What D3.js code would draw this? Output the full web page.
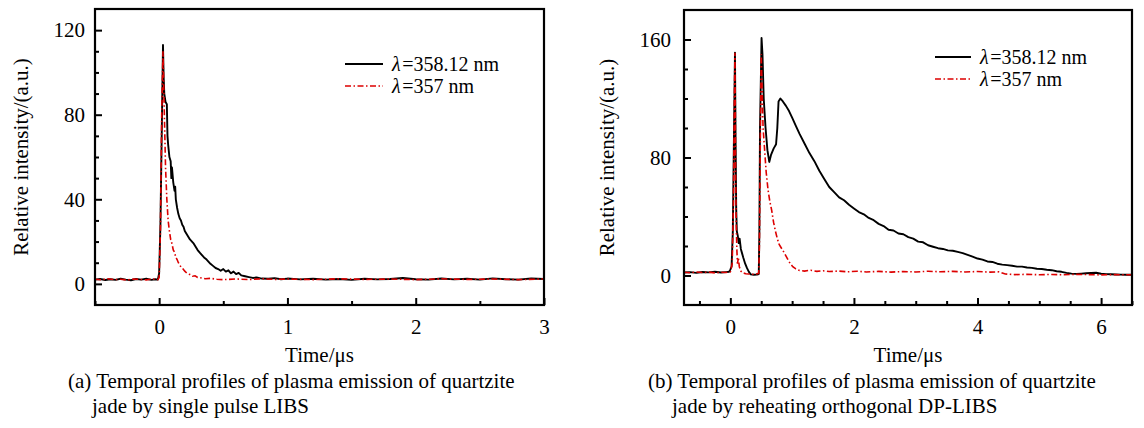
<!DOCTYPE html>
<html><head><meta charset="utf-8">
<script src="https://cdn.jsdelivr.net/npm/d3@7"></script>
<style>
body{margin:0;background:#fff;}
svg text{font-family:"Liberation Serif","Times New Roman",serif;fill:#000;}
</style></head>
<body><svg id="c" width="1144" height="428"></svg>
<script>
// ---------- data ----------
const legendLabels = ["358.12 nm", "357 nm"];
const captionA = ["(a) Temporal profiles of plasma emission of quartzite", "jade by single pulse LIBS"];
const captionB = ["(b) Temporal profiles of plasma emission of quartzite", "jade by reheating orthogonal DP-LIBS"];
const xTitle = "Time/\u03bcs";
const yTitle = "Relative intensity/(a.u.)";

const aXTicks = [0, 1, 2, 3];
const aXMinor = [-0.5, 0.5, 1.5, 2.5];
const aYTicks = [0, 40, 80, 120];
const aYMinor = [-10, 10, 20, 30, 50, 60, 70, 90, 100, 110, 130];
const bXTicks = [0, 2, 4, 6];
const bXMinor = [-0.5, 0.5, 1, 1.5, 2.5, 3, 3.5, 4.5, 5, 5.5, 6.5];
const bYTicks = [0, 80, 160];
const bYMinor = [20, 40, 60, 100, 120, 140];

// panel (a) lambda = 358.12 nm  [time, intensity]
const a358 = [[-0.50,2.0],[-0.46,2.3],[-0.42,1.8],[-0.38,2.2],[-0.34,1.9],[-0.30,2.4],[-0.26,2.0],[-0.22,1.7],[-0.18,2.3],[-0.14,2.0],[-0.10,2.4],[-0.06,1.9],[-0.03,2.2],[-0.01,2.0],
[0.00,5],[0.01,28],[0.02,70],[0.03,113],[0.035,98],[0.04,90],[0.05,86],[0.06,85],[0.065,70],[0.07,66],[0.08,60],[0.09,58],[0.095,50],[0.10,55],[0.11,48],[0.12,44],[0.125,46],[0.13,40],[0.14,36],[0.15,33],[0.16,31],[0.17,30],[0.18,28],[0.19,27],[0.20,25],[0.22,23],[0.24,21],[0.27,19],[0.30,16],[0.32,14.5],[0.35,12.5],[0.37,11.5],[0.40,9.5],[0.42,8.5],[0.44,7.5],[0.46,7.0],[0.48,6.2],[0.50,7.0],[0.52,5.8],[0.54,6.4],[0.56,5.0],[0.58,5.8],[0.60,4.6],[0.62,5.2],[0.64,4.0],[0.67,3.6],[0.70,3.2],[0.73,2.8],[0.76,3.0],[0.80,2.5],[0.85,2.4],[0.90,2.7],[0.95,2.2],[1.00,2.5],[1.10,2.1],[1.20,2.4],[1.30,2.0],[1.40,2.3],[1.50,1.9],[1.60,2.4],[1.70,2.1],[1.80,2.3],[1.90,2.8],[2.00,2.2],[2.10,2.0],[2.20,2.5],[2.30,2.1],[2.40,2.4],[2.50,2.0],[2.60,2.6],[2.70,2.2],[2.80,2.0],[2.90,2.5],[3.00,2.3]];

// panel (a) lambda = 357 nm
const a357 = [[-0.50,2.2],[-0.45,1.9],[-0.40,2.4],[-0.35,2.0],[-0.30,2.2],[-0.25,1.8],[-0.20,2.3],[-0.15,2.1],[-0.10,1.9],[-0.05,2.3],[-0.01,2.0],[0.00,3],[0.01,25],[0.02,80],[0.03,110],[0.04,82],[0.05,55],[0.06,40],[0.07,30],[0.08,25],[0.09,21],[0.10,19],[0.11,16],[0.12,15],[0.13,12.5],[0.14,11.5],[0.15,10],[0.16,9],[0.17,8],[0.18,7.5],[0.20,6],[0.22,4.8],[0.24,4.4],[0.26,3.6],[0.28,3.8],[0.30,3.0],[0.33,2.8],[0.36,2.4],[0.40,2.6],[0.45,2.2],[0.50,2.0],[0.60,2.3],[0.70,2.0],[0.80,2.4],[0.90,2.1],[1.00,2.3],[1.20,2.0],[1.40,2.4],[1.60,2.1],[1.80,2.3],[2.00,2.0],[2.20,2.4],[2.40,2.1],[2.60,2.3],[2.80,2.0],[3.00,2.3]];

// panel (b) lambda = 358.12 nm
const b358 = [[-0.75,2.0],[-0.65,2.3],[-0.55,1.8],[-0.45,2.4],[-0.35,2.1],[-0.25,2.5],[-0.15,2.0],[-0.07,2.3],[-0.02,2.5],[0.00,4],[0.02,6],[0.04,30],[0.06,100],[0.075,151],[0.085,90],[0.095,45],[0.105,30],[0.12,27],[0.135,22],[0.15,25],[0.17,18],[0.19,15],[0.21,12],[0.24,8],[0.27,5],[0.30,2.5],[0.33,0.8],[0.38,0.5],[0.43,0.6],[0.46,1.0],[0.47,30],[0.48,100],[0.505,161],[0.52,150],[0.54,120],[0.57,100],[0.60,85],[0.63,77],[0.66,82],[0.70,86],[0.74,89],[0.76,100],[0.78,118],[0.81,120],[0.85,118],[0.90,115],[0.95,111.5],[1.00,107],[1.06,101.5],[1.12,96],[1.20,89.5],[1.28,83],[1.36,77.5],[1.44,71],[1.52,65.5],[1.60,60],[1.68,56.5],[1.76,53],[1.84,51],[1.92,48],[2.00,45.5],[2.08,43],[2.16,41.5],[2.24,39],[2.32,37.5],[2.40,35],[2.48,33.5],[2.56,31],[2.64,30.5],[2.72,28.5],[2.80,28],[2.88,26],[2.96,25],[3.04,23],[3.12,22.5],[3.20,20.5],[3.28,19.5],[3.36,18.5],[3.44,18],[3.52,17],[3.60,16.8],[3.68,16],[3.76,15.2],[3.84,14],[3.92,12.8],[4.00,11.5],[4.08,10.8],[4.16,9.5],[4.24,9.2],[4.32,8],[4.40,7.4],[4.48,7],[4.56,6.6],[4.64,6.0],[4.72,6.0],[4.80,5.4],[4.88,5.2],[4.96,4.6],[5.04,4.4],[5.12,3.9],[5.20,3.6],[5.28,2.9],[5.36,2.5],[5.44,1.8],[5.52,1.3],[5.60,1.1],[5.68,1.3],[5.76,1.5],[5.84,1.7],[5.92,1.9],[6.00,1.2],[6.08,0.9],[6.16,0.8],[6.24,0.7],[6.32,0.6],[6.40,0.5],[6.50,0.5]];

// panel (b) lambda = 357 nm
const b357 = [[-0.75,2.2],[-0.65,1.9],[-0.55,2.4],[-0.45,2.0],[-0.35,2.3],[-0.25,1.8],[-0.15,2.2],[-0.07,2.0],[0.00,2.5],[0.03,8],[0.05,50],[0.065,120],[0.075,151],[0.085,70],[0.095,37],[0.105,18],[0.115,8],[0.13,12],[0.145,6],[0.17,3],[0.20,1.8],[0.25,1.2],[0.30,1.0],[0.36,0.8],[0.42,1.0],[0.46,1.5],[0.47,20],[0.485,90],[0.50,150],[0.515,125],[0.53,100],[0.55,88],[0.58,70],[0.61,58],[0.64,50],[0.67,44],[0.70,36],[0.73,30],[0.76,25],[0.79,21],[0.82,19],[0.85,17],[0.89,14],[0.93,11],[0.97,8],[1.01,6],[1.06,4.5],[1.12,3.4],[1.20,3.0],[1.30,3.6],[1.40,2.8],[1.50,3.2],[1.60,2.7],[1.75,3.0],[1.90,2.5],[2.05,2.9],[2.20,2.4],[2.40,2.8],[2.60,2.3],[2.80,2.7],[3.00,2.4],[3.20,2.9],[3.40,2.5],[3.60,2.8],[3.80,2.4],[4.00,2.7],[4.20,2.3],[4.35,2.5],[4.45,1.0],[4.60,0.6],[4.80,0.8],[5.00,0.5],[5.20,0.7],[5.40,0.5],[5.60,0.8],[5.80,0.6],[6.00,0.4],[6.20,0.6],[6.40,0.5],[6.50,0.5]];

// ---------- drawing ----------
const svg = d3.select("#c");
const FS = 21;
const LFS = 20;
const FONT = '"Liberation Serif","Times New Roman",serif';
const RED = "#dd0000";
const DASH = "6,2.5,1.5,2.5";

function panel(o) {
  const g = svg.append("g");
  const x = d3.scaleLinear().domain(o.xDom).range([o.x0, o.x1]);
  const y = d3.scaleLinear().domain(o.yDom).range([o.y1, o.y0]);
  const cid = "clip" + o.id;
  svg.append("clipPath").attr("id", cid).append("rect")
    .attr("x", o.x0).attr("y", o.y0).attr("width", o.x1 - o.x0).attr("height", o.y1 - o.y0);

  const line = d3.line().x(d => x(d[0])).y(d => y(d[1]));
  const lg = g.append("g").attr("clip-path", `url(#${cid})`);
  lg.append("path").datum(o.s1).attr("d", line).attr("fill", "none")
    .attr("stroke", "#000").attr("stroke-width", 1.9).attr("stroke-linejoin", "round");
  lg.append("path").datum(o.s2).attr("d", line).attr("fill", "none")
    .attr("stroke", RED).attr("stroke-width", 1.6).attr("stroke-dasharray", DASH);

  // axes
  g.append("g").attr("transform", `translate(0,${o.y1})`)
    .call(d3.axisBottom(x).tickValues(o.xTicks).tickFormat(d3.format("d")).tickSize(-7).tickPadding(14));
  g.append("g").attr("transform", `translate(0,${o.y1})`)
    .call(d3.axisBottom(x).tickValues(o.xMinor).tickFormat("").tickSize(-4));
  g.append("g").attr("transform", `translate(${o.x0},0)`)
    .call(d3.axisLeft(y).tickValues(o.yTicks).tickFormat(d3.format("d")).tickSize(-7).tickPadding(o.yPad));
  g.append("g").attr("transform", `translate(${o.x0},0)`)
    .call(d3.axisLeft(y).tickValues(o.yMinor.filter(v => v > o.yDom[0] && v < o.yDom[1])).tickFormat("").tickSize(-4));
  g.selectAll(".tick line").attr("stroke", "#000").attr("stroke-width", 2);
  g.selectAll(".domain").remove();
  g.selectAll(".tick text").attr("font-size", FS).attr("font-family", FONT);

  // frame
  g.append("rect").attr("x", o.x0).attr("y", o.y0).attr("width", o.x1 - o.x0).attr("height", o.y1 - o.y0)
    .attr("fill", "none").attr("stroke", "#000").attr("stroke-width", 2.2);

  // titles
  g.append("text").attr("x", (o.x0 + o.x1) / 2).attr("y", o.xtY).attr("text-anchor", "middle")
    .attr("font-size", FS).text(xTitle);
  g.append("text").attr("transform", `translate(${o.ytX},${(o.y0 + o.y1) / 2}) rotate(-90)`)
    .attr("text-anchor", "middle").attr("dy", "0.35em").attr("font-size", FS).text(yTitle);

  // legend
  const L = o.leg;
  [0, 1].forEach(i => {
    const ly = L.y + i * L.dy;
    g.append("line").attr("x1", L.x).attr("x2", L.x + L.w).attr("y1", ly).attr("y2", ly)
      .attr("stroke", i ? RED : "#000").attr("stroke-width", i ? 1.6 : 1.8)
      .attr("stroke-dasharray", i ? DASH : null);
    const t = g.append("text").attr("x", L.x + L.w + 9).attr("y", ly).attr("dy", "0.34em").attr("font-size", LFS);
    t.append("tspan").attr("font-style", "italic").text("\u03bb");
    t.append("tspan").attr("dx", 1.5).text("=" + legendLabels[i]);
  });

  // caption
  o.cap.forEach((c, i) => {
    g.append("text").attr("x", i ? o.capX + o.capIndent : o.capX).attr("y", o.capY + i * 25)
      .attr("font-size", FS).text(c);
  });
}

panel({id: "a", xDom: [-0.5, 3], yDom: [-10, 130], x0: 95, x1: 544, y0: 9, y1: 305,
  xTicks: aXTicks, xMinor: aXMinor, yTicks: aYTicks, yMinor: aYMinor, yPad: 10,
  s1: a358, s2: a357, xtY: 362, ytX: 21,
  leg: {x: 345, y: 64, dy: 22, w: 38}, cap: captionA, capX: 68, capIndent: 24, capY: 388});

panel({id: "b", xDom: [-0.75, 6.5], yDom: [-20, 180], x0: 684, x1: 1132, y0: 10, y1: 305,
  xTicks: bXTicks, xMinor: bXMinor, yTicks: bYTicks, yMinor: bYMinor, yPad: 13,
  s1: b358, s2: b357, xtY: 362, ytX: 607,
  leg: {x: 935, y: 57, dy: 22, w: 36}, cap: captionB, capX: 648, capIndent: 24, capY: 388});
</script></body></html>
